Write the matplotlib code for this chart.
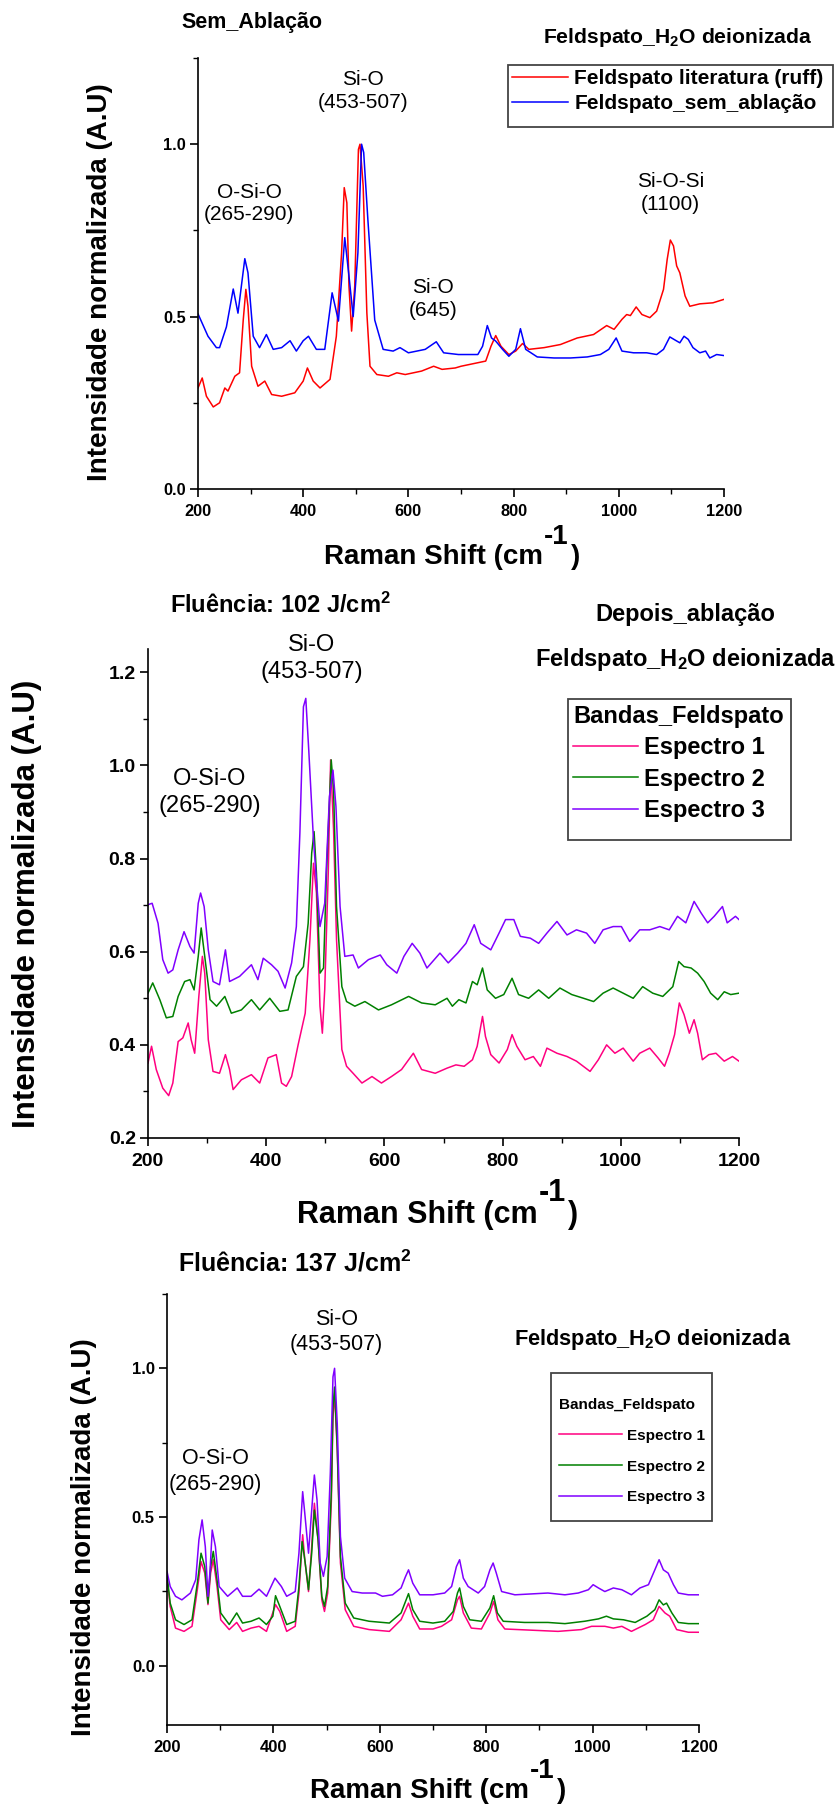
import matplotlib
matplotlib.use("Agg")
import matplotlib.pyplot as plt
import numpy as np
from matplotlib.patches import Rectangle
from matplotlib.ticker import MultipleLocator

plt.rcParams["font.family"] = ["Liberation Sans", "DejaVu Sans"]
plt.rcParams["font.weight"] = "bold"
plt.rcParams["mathtext.fontset"] = "custom"
plt.rcParams["mathtext.rm"] = "Liberation Sans"
plt.rcParams["mathtext.bf"] = "Liberation Sans:bold"
plt.rcParams["mathtext.it"] = "Liberation Sans:italic"

W, H = 836, 1805

# ---- panel 1: sem ablacao (x, intensity)
P1_LITERATURA = [
    (200, .293), (208, .322), (216, .269), (229, .238), (241, .25), (251, .293), (257, .284),
    (270, .327), (279, .337), (286, .49), (291, .579), (295, .53), (302, .356), (314, .298),
    (327, .313), (340, .274), (359, .269), (384, .279), (400, .313), (408, .351), (419, .313),
    (432, .293), (451, .318), (463, .443), (473, .685), (478, .874), (483, .83), (487, .589),
    (492, .458), (498, .589), (505, .985), (508, 1.0), (514, .879), (521, .511), (527, .356),
    (540, .332), (562, .327), (578, .337), (594, .332), (625, .342), (648, .356), (664, .347),
    (689, .351), (700, .356), (747, .371), (757, .414), (766, .445), (776, .414), (791, .39),
    (804, .40), (817, .422), (829, .405), (858, .41), (889, .419), (921, .438), (952, .448),
    (977, .474), (991, .463), (1006, .492), (1015, .506), (1022, .503), (1033, .528),
    (1044, .506), (1059, .497), (1072, .516), (1085, .579), (1092, .666), (1098, .722),
    (1104, .705), (1110, .647), (1116, .627), (1126, .56), (1135, .53), (1154, .537),
    (1179, .54), (1200, .55),
]
P1_SEM_ABLACAO = [
    (200, .508), (219, .443), (235, .41), (241, .41), (254, .47), (267, .58), (276, .51),
    (289, .668), (295, .627), (305, .443), (317, .41), (330, .448), (343, .405), (359, .41),
    (375, .43), (387, .40), (400, .43), (410, .443), (425, .405), (441, .405), (455, .569),
    (467, .487), (479, .729), (487, .618), (495, .50), (504, .685), (511, 1.0), (515, .976),
    (523, .78), (536, .49), (552, .405), (571, .40), (584, .41), (600, .395), (632, .405),
    (653, .427), (667, .395), (695, .39), (732, .39), (741, .414), (750, .474), (758, .438),
    (766, .429), (779, .405), (791, .385), (804, .405), (813, .465), (823, .405), (845, .383),
    (877, .38), (908, .38), (940, .383), (965, .39), (981, .405), (995, .438), (1006, .40),
    (1028, .395), (1053, .395), (1072, .39), (1085, .405), (1097, .441), (1107, .432),
    (1116, .424), (1124, .443), (1132, .434), (1141, .41), (1154, .395), (1165, .40),
    (1173, .38), (1186, .39), (1200, .387),
]

# ---- panel 2: fluencia 102 J/cm2
P2_ESPECTRO_1 = [
    (200, .361), (206, .397), (214, .347), (225, .307), (235, .291), (242, .318), (251, .407),
    (259, .415), (268, .447), (273, .411), (279, .382), (286, .504), (292, .59), (296, .554),
    (302, .411), (310, .343), (321, .339), (331, .379), (338, .347), (344, .304), (358, .325),
    (375, .336), (389, .318), (403, .372), (417, .379), (426, .318), (434, .311), (443, .332),
    (454, .40), (466, .468), (474, .626), (480, .79), (485, .726), (491, .483), (495, .425),
    (499, .518), (505, .769), (509, 1.012), (514, .862), (519, .626), (528, .39), (536, .354),
    (547, .339), (562, .318), (579, .332), (595, .318), (612, .332), (629, .347), (649, .382),
    (663, .347), (686, .339), (706, .35), (721, .357), (735, .354), (749, .368), (757, .397),
    (766, .461), (771, .418), (780, .379), (794, .361), (808, .39), (816, .422), (824, .397),
    (838, .368), (852, .375), (864, .354), (875, .393), (892, .382), (909, .375), (925, .365),
    (948, .343), (962, .368), (976, .40), (990, .382), (1004, .393), (1021, .365), (1032, .382),
    (1049, .393), (1063, .372), (1074, .354), (1082, .382), (1091, .422), (1099, .49),
    (1107, .465), (1116, .425), (1124, .454), (1130, .425), (1138, .368), (1149, .379),
    (1161, .382), (1175, .365), (1189, .375), (1200, .365),
]
P2_ESPECTRO_2 = [
    (200, .511), (208, .533), (220, .497), (231, .458), (242, .461), (251, .504), (262, .536),
    (271, .54), (278, .518), (285, .59), (290, .651), (296, .59), (305, .497), (316, .483),
    (330, .504), (341, .468), (358, .475), (375, .497), (389, .475), (406, .50), (423, .472),
    (437, .475), (451, .547), (463, .568), (471, .661), (477, .812), (481, .858), (485, .769),
    (491, .554), (497, .565), (502, .769), (510, 1.012), (514, .948), (519, .697), (528, .525),
    (536, .493), (550, .483), (567, .493), (590, .475), (612, .486), (641, .504), (663, .49),
    (686, .486), (706, .50), (715, .483), (726, .497), (738, .49), (749, .536), (757, .529),
    (766, .565), (774, .518), (788, .50), (802, .508), (816, .543), (827, .508), (844, .50),
    (861, .518), (878, .50), (897, .522), (917, .508), (937, .50), (954, .493), (970, .511),
    (987, .522), (1004, .511), (1021, .50), (1037, .525), (1054, .511), (1071, .504),
    (1088, .525), (1098, .579), (1107, .568), (1119, .565), (1130, .554), (1141, .536),
    (1152, .511), (1164, .497), (1175, .514), (1186, .508), (1200, .511),
]
P2_ESPECTRO_3 = [
    (200, .701), (207, .704), (217, .661), (225, .583), (234, .554), (242, .561), (251, .604),
    (261, .643), (271, .611), (278, .597), (285, .704), (289, .726), (295, .697), (302, .604),
    (310, .536), (321, .529), (331, .604), (338, .536), (355, .547), (375, .572), (386, .54),
    (395, .586), (409, .572), (420, .558), (432, .522), (443, .576), (451, .654), (457, .855),
    (463, 1.126), (467, 1.144), (472, 1.033), (480, .84), (485, .754), (491, .654), (499, .704),
    (507, .933), (513, .99), (518, .912), (525, .697), (533, .59), (547, .593), (556, .565),
    (573, .583), (593, .593), (604, .572), (621, .554), (633, .59), (647, .618), (660, .597),
    (672, .565), (694, .597), (708, .576), (724, .597), (738, .618), (752, .658), (763, .618),
    (780, .604), (794, .64), (805, .669), (819, .669), (830, .633), (847, .629), (861, .618),
    (875, .64), (892, .665), (909, .636), (925, .647), (942, .64), (956, .618), (970, .647),
    (987, .654), (1001, .654), (1015, .622), (1032, .647), (1049, .647), (1066, .654),
    (1082, .647), (1096, .676), (1110, .662), (1124, .708), (1136, .683), (1147, .662),
    (1158, .676), (1172, .697), (1180, .662), (1194, .676), (1200, .669),
]

# ---- panel 3: fluencia 137 J/cm2
P3_ESPECTRO_1 = [
    (200, .294), (206, .199), (216, .126), (232, .115), (247, .132), (257, .255), (264, .35),
    (271, .311), (277, .205), (282, .311), (287, .356), (294, .266), (301, .154), (317, .121),
    (331, .145), (342, .115), (358, .126), (373, .132), (387, .115), (404, .205), (412, .182),
    (425, .115), (441, .132), (448, .244), (455, .44), (459, .356), (466, .249), (472, .40),
    (477, .546), (484, .423), (491, .221), (496, .182), (502, .244), (509, .557), (512, .837),
    (515, .915), (520, .725), (526, .345), (535, .188), (551, .132), (580, .121), (618, .115),
    (640, .154), (654, .21), (662, .166), (675, .123), (700, .123), (716, .132), (735, .154),
    (746, .221), (750, .233), (757, .177), (772, .126), (791, .123), (807, .177), (814, .216),
    (822, .154), (835, .123), (885, .119), (935, .115), (979, .121), (998, .132), (1023, .132),
    (1039, .126), (1055, .132), (1073, .115), (1099, .138), (1114, .154), (1125, .199),
    (1136, .177), (1145, .166), (1158, .121), (1180, .112), (1200, .112),
]
P3_ESPECTRO_2 = [
    (200, .305), (206, .21), (216, .154), (232, .138), (247, .154), (257, .277), (264, .378),
    (271, .333), (277, .21), (282, .333), (287, .384), (294, .289), (301, .177), (317, .138),
    (331, .177), (342, .143), (358, .149), (373, .16), (387, .138), (399, .166), (404, .235),
    (412, .199), (425, .138), (441, .149), (448, .266), (454, .417), (459, .356), (466, .255),
    (472, .378), (477, .523), (484, .423), (491, .233), (496, .199), (502, .266), (509, .591),
    (512, .87), (515, .937), (520, .736), (526, .367), (535, .21), (551, .16), (580, .149),
    (618, .143), (640, .177), (654, .242), (662, .188), (675, .149), (700, .143), (722, .149),
    (738, .182), (746, .244), (750, .261), (757, .199), (769, .154), (791, .149), (807, .194),
    (814, .235), (821, .177), (832, .149), (872, .145), (916, .145), (948, .141), (985, .149),
    (1011, .157), (1026, .166), (1039, .157), (1058, .154), (1080, .145), (1102, .166),
    (1117, .188), (1125, .221), (1133, .204), (1139, .21), (1149, .177), (1161, .145),
    (1180, .141), (1200, .141),
]
P3_ESPECTRO_3 = [
    (200, .317), (206, .266), (216, .233), (228, .221), (244, .244), (254, .289), (260, .423),
    (266, .49), (272, .40), (277, .233), (281, .322), (285, .456), (291, .40), (298, .266),
    (314, .233), (332, .261), (342, .233), (358, .233), (373, .257), (387, .233), (403, .294),
    (415, .266), (425, .233), (441, .249), (448, .378), (455, .585), (459, .512), (466, .378),
    (472, .523), (477, .641), (482, .557), (488, .345), (494, .30), (501, .367), (507, .647),
    (512, .971), (515, 1.0), (520, .814), (526, .434), (534, .294), (548, .249), (567, .244),
    (592, .244), (605, .233), (624, .238), (640, .261), (648, .298), (654, .322), (662, .277),
    (675, .238), (700, .238), (722, .244), (735, .266), (744, .333), (750, .356), (757, .294),
    (766, .266), (785, .244), (797, .266), (807, .322), (813, .345), (819, .311), (829, .249),
    (854, .238), (885, .241), (916, .244), (948, .238), (973, .244), (992, .255), (1001, .272),
    (1011, .261), (1023, .249), (1039, .261), (1055, .255), (1073, .238), (1089, .261),
    (1105, .272), (1117, .322), (1125, .356), (1133, .322), (1142, .311), (1152, .272),
    (1161, .244), (1180, .238), (1200, .238),
]

RED, BLUE = "#FF0000", "#0000FF"
PINK, GREEN, VIOLET = "#FF0080", "#008000", "#8000FF"
YLABEL = "Intensidade normalizada (A.U)"
H2O_TITLE = r"Feldspato_H$_{\mathbf{2}}$O deionizada"


def fx(px):
    return px / W


def fy(py):
    return 1 - py / H


def make_axes(fig, left, top, right, bottom):
    return fig.add_axes([fx(left), fy(bottom), (right - left) / W, (bottom - top) / H])


def style_axes(ax, ylim, ymajor, labelsize):
    ax.set_xlim(200, 1200)
    ax.set_ylim(*ylim)
    ax.xaxis.set_major_locator(MultipleLocator(200))
    ax.xaxis.set_minor_locator(MultipleLocator(100))
    ax.yaxis.set_major_locator(MultipleLocator(ymajor))
    ax.yaxis.set_minor_locator(MultipleLocator(ymajor / 2))
    for side in ["top", "right"]:
        ax.spines[side].set_visible(False)
    for side in ["left", "bottom"]:
        ax.spines[side].set_linewidth(1.2)
    ax.tick_params(which="major", direction="out", length=5.8, width=1.2, labelsize=labelsize)
    ax.tick_params(which="minor", direction="out", length=3.3, width=1.0)
    ax.tick_params(axis="x", pad=5)
    ax.tick_params(axis="y", pad=3)


def draw(ax, series, color):
    xy = np.array(series)
    line, = ax.plot(xy[:, 0], xy[:, 1], color=color, linewidth=1.1)
    return line


def legend_box(fig, left, top, right, bottom):
    fig.patches.append(Rectangle((fx(left), fy(bottom)), (right - left) / W, (bottom - top) / H,
                                 transform=fig.transFigure, fill=False,
                                 edgecolor="#444444", linewidth=1.3))


def annotate(ax, x, y, text, size, spacing):
    ax.text(x, y, text, ha="center", va="center", fontsize=size, fontweight="normal",
            linespacing=spacing, multialignment="center")


def raman_label(fig, left, baseline, size):
    # Origin-style label: full-size "-1" raised to the cap height, then ")"
    renderer = fig.canvas.get_renderer()
    cap = 0.716 * size * 100 / 72
    main = fig.text(fx(left), fy(baseline), "Raman Shift (cm", fontsize=size, va="baseline")
    end = main.get_window_extent(renderer).x1
    sup = fig.text(fx(end + 1), fy(baseline - cap), "-1", fontsize=size, va="baseline")
    end = sup.get_window_extent(renderer).x1
    fig.text(fx(end + 2), fy(baseline), ")", fontsize=size, va="baseline")


def main():
    fig = plt.figure(figsize=(W / 100, H / 100), dpi=100)

    # panel 1
    ax1 = make_axes(fig, 198, 58, 724, 489)
    l_lit = draw(ax1, P1_LITERATURA, RED)
    l_sem = draw(ax1, P1_SEM_ABLACAO, BLUE)
    style_axes(ax1, (0, 1.25), 0.5, 11.8)
    annotate(ax1, 514, 1.154, "Si-O\n(453-507)", 15, 1.25)
    annotate(ax1, 297, 0.828, "O-Si-O\n(265-290)", 15, 1.25)
    annotate(ax1, 647, 0.55, "Si-O\n(645)", 15, 1.25)
    annotate(ax1, 1098, 0.858, "Si-O-Si\n(1100)", 15, 1.25)
    fig.text(fx(181), fy(28), "Sem_Ablação", fontsize=15.5, va="baseline")
    fig.text(fx(543), fy(43), H2O_TITLE, fontsize=15.2, va="baseline")
    legend_box(fig, 508, 65, 833, 127)
    fig.legend([l_lit, l_sem], ["Feldspato literatura (ruff)", "Feldspato_sem_ablação"],
               loc="upper left", bbox_to_anchor=(fx(512), fy(69)), frameon=False,
               prop={"weight": "bold", "size": 15}, borderpad=0, borderaxespad=0,
               handlelength=2.7, handletextpad=0.3, labelspacing=0.3)
    fig.text(fx(100), fy(282), YLABEL, rotation=90, fontsize=20, ha="center", va="center")
    raman_label(fig, 324, 564, 20)

    # panel 2
    ax2 = make_axes(fig, 148, 649, 739, 1138)
    e1 = draw(ax2, P2_ESPECTRO_1, PINK)
    e2 = draw(ax2, P2_ESPECTRO_2, GREEN)
    e3 = draw(ax2, P2_ESPECTRO_3, VIOLET)
    style_axes(ax2, (0.2, 1.25), 0.2, 14)
    annotate(ax2, 477, 1.229, "Si-O\n(453-507)", 17, 1.3)
    annotate(ax2, 305, 0.941, "O-Si-O\n(265-290)", 17, 1.3)
    fig.text(fx(170), fy(613), r"Fluência: 102 J/cm$^{\mathbf{2}}$", fontsize=17, va="baseline")
    fig.text(fx(685), fy(621), "Depois_ablação", fontsize=17, ha="center", va="baseline")
    fig.text(fx(535), fy(666), H2O_TITLE, fontsize=17, va="baseline")
    legend_box(fig, 568, 699, 791, 840)
    fig.legend([e1, e2, e3], ["Espectro 1", "Espectro 2", "Espectro 3"],
               title="Bandas_Feldspato", alignment="left",
               title_fontproperties={"weight": "bold", "size": 17},
               loc="upper left", bbox_to_anchor=(fx(573), fy(705)), frameon=False,
               prop={"weight": "bold", "size": 17}, borderpad=0, borderaxespad=0,
               handlelength=2.75, handletextpad=0.25, labelspacing=0.35)
    fig.text(fx(27), fy(904), YLABEL, rotation=90, fontsize=22.5, ha="center", va="center")
    raman_label(fig, 297, 1223, 22)

    # panel 3
    ax3 = make_axes(fig, 167, 1294, 699, 1725)
    f1 = draw(ax3, P3_ESPECTRO_1, PINK)
    f2 = draw(ax3, P3_ESPECTRO_2, GREEN)
    f3 = draw(ax3, P3_ESPECTRO_3, VIOLET)
    style_axes(ax3, (-0.2, 1.25), 0.5, 12)
    annotate(ax3, 518, 1.122, "Si-O\n(453-507)", 15.5, 1.3)
    annotate(ax3, 291, 0.652, "O-Si-O\n(265-290)", 15.5, 1.3)
    fig.text(fx(178), fy(1272), r"Fluência: 137 J/cm$^{\mathbf{2}}$", fontsize=18, va="baseline")
    fig.text(fx(514), fy(1345), H2O_TITLE, fontsize=15.7, va="baseline")
    legend_box(fig, 551, 1373, 712, 1521)
    fig.legend([f1, f2, f3], ["Espectro 1", "Espectro 2", "Espectro 3"],
               title="Bandas_Feldspato", alignment="left",
               title_fontproperties={"weight": "bold", "size": 11},
               loc="upper left", bbox_to_anchor=(fx(559), fy(1398)), frameon=False,
               prop={"weight": "bold", "size": 11}, borderpad=0, borderaxespad=0,
               handlelength=4.1, handletextpad=0.33, labelspacing=1.1)
    fig.text(fx(84), fy(1537), YLABEL, rotation=90, fontsize=20, ha="center", va="center")
    raman_label(fig, 310, 1798, 20)

    fig.savefig("out.png", dpi=100)
    plt.close(fig)


if __name__ == "__main__":
    main()
